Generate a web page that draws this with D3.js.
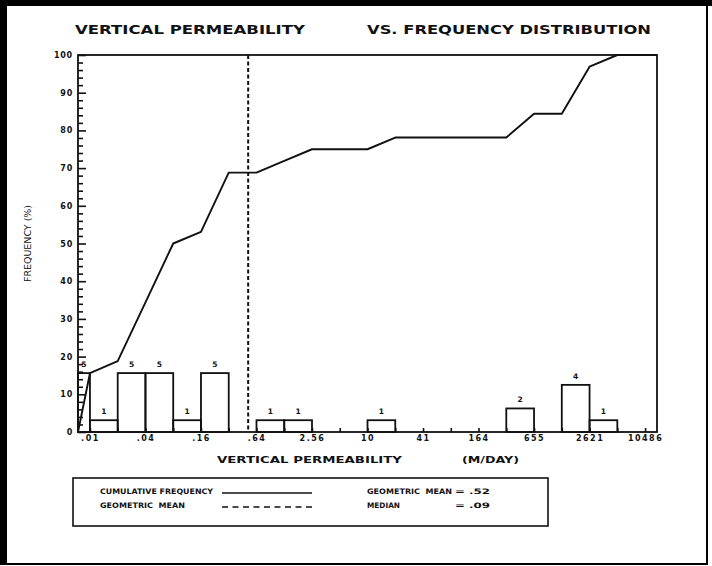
<!DOCTYPE html>
<html>
<head>
<meta charset="utf-8">
<script src="https://cdn.jsdelivr.net/npm/d3@7"></script>
<style>
  body { margin: 0; background: #fff; }
  svg { display: block; }
  text { font-family: "DejaVu Sans", sans-serif; font-weight: bold; fill: #111; white-space: pre; }
</style>
</head>
<body>
<script>
// ---- data -------------------------------------------------------------
// Histogram classes (m/day, doubling widths) and number of samples per class
const binLow  = [0.005, 0.01, 0.02, 0.04, 0.08, 0.16, 0.64, 1.28, 10.24, 327.68, 1310.72, 2621.44];
const binHigh = [0.01, 0.02, 0.04, 0.08, 0.16, 0.32, 1.28, 2.56, 20.48, 655.36, 2621.44, 5242.88];
const counts  = [5, 1, 5, 5, 1, 5, 1, 1, 1, 2, 4, 1];
const totalSamples = 32;

// Cumulative frequency (%) at the class boundaries
const cumX   = [0.00742, 0.01, 0.02, 0.04, 0.08, 0.16, 0.32, 0.64, 1.28, 2.56, 5.12, 10.24, 20.48,
                40.96, 81.92, 163.84, 327.68, 655.36, 1310.72, 2621.44, 5242.88, 14127];
const cumPct = [0, 15.6, 18.8, 34.4, 50, 53.1, 68.8, 68.8, 71.9, 75, 75, 75, 78.1,
                78.1, 78.1, 78.1, 78.1, 84.4, 84.4, 96.9, 100, 100];

// Axis extents and labels
const xExtent = [0.00742, 14127];
const xLabelValues = [0.01, 0.04, 0.16, 0.64, 2.56, 10.24, 40.96, 163.84, 655.36, 2621.44, 10485.76];
const xLabelText   = [".01", ".04", ".16", ".64", "2.56", "10", "41", "164", "655", "2621", "10486"];
const yMajor = [0, 10, 20, 30, 40, 50, 60, 70, 80, 90, 100];

// Summary statistics
const geoMean = 0.52;
const median = 0.09;

// ---- layout -----------------------------------------------------------
const W = 712, H = 566;
const plot = { left: 78, right: 657, top: 55, bottom: 432 };

const svg = d3.select("body").append("svg").attr("width", W).attr("height", H);

// page frame
svg.append("rect").attr("width", W).attr("height", H).attr("fill", "#000");
svg.append("rect").attr("x", 7).attr("y", 6).attr("width", 699).attr("height", 557).attr("fill", "#fff");
svg.append("rect").attr("x", 0).attr("y", 565).attr("width", W).attr("height", 1).attr("fill", "#fff");
svg.append("rect").attr("x", 708).attr("y", 6).attr("width", 4).attr("height", H).attr("fill", "#fff");

const x = d3.scaleLog().base(2).domain(xExtent).range([plot.left, plot.right]);
const y = d3.scaleLinear().domain([0, 100]).range([plot.bottom, plot.top]);

// ---- title ------------------------------------------------------------
svg.append("text").attr("x", 75).attr("y", 34)
  .attr("textLength", 230).attr("lengthAdjust", "spacingAndGlyphs")
  .style("font-size", "12.5px").text("VERTICAL PERMEABILITY");
svg.append("text").attr("x", 367).attr("y", 34)
  .attr("textLength", 284).attr("lengthAdjust", "spacingAndGlyphs")
  .style("font-size", "12.5px").text("VS. FREQUENCY DISTRIBUTION");

// ---- axes -------------------------------------------------------------
const yMinorVals = d3.range(0, 101, 2).filter(v => v % 10 !== 0);
svg.append("g").attr("transform", `translate(${plot.left},0)`)
  .call(d3.axisLeft(y).tickValues(yMinorVals).tickSizeInner(-5).tickSizeOuter(0).tickFormat(""))
  .call(g => g.select(".domain").remove())
  .call(g => g.selectAll("line").attr("stroke", "#111").attr("stroke-width", 1.6));

const yAxis = svg.append("g").attr("transform", `translate(${plot.left},0)`)
  .call(d3.axisLeft(y).tickValues(yMajor).tickSizeInner(-8).tickSizeOuter(0).tickPadding(5))
  .call(g => g.select(".domain").remove())
  .call(g => g.selectAll("line").attr("stroke", "#111").attr("stroke-width", 1.6));
yAxis.selectAll("text").style("font-size", "8px").style("letter-spacing", "0.8px")
  .attr("font-family", null).attr("fill", "#111");

// doubling ticks along the bottom axis, labelled every second one
const xTickVals = d3.range(0, 21).map(i => 0.01 * Math.pow(2, i));
const labelFor = v => {
  const i = xLabelValues.findIndex(l => Math.abs(Math.log2(l / v)) < 1e-6);
  return i >= 0 ? xLabelText[i] : "";
};
const xAxis = svg.append("g").attr("transform", `translate(0,${plot.bottom})`)
  .call(d3.axisBottom(x).tickValues(xTickVals).tickSizeInner(-4).tickSizeOuter(0).tickPadding(3)
    .tickFormat(labelFor))
  .call(g => g.select(".domain").remove())
  .call(g => g.selectAll("line").attr("stroke", "#111").attr("stroke-width", 1.6));
xAxis.selectAll("text").style("font-size", "8px").style("letter-spacing", "1.5px")
  .attr("font-family", null).attr("fill", "#111");

// axis titles
svg.append("text").attr("x", 217).attr("y", 463)
  .attr("textLength", 185).attr("lengthAdjust", "spacingAndGlyphs")
  .style("font-size", "9.5px").text("VERTICAL PERMEABILITY");
svg.append("text").attr("x", 462).attr("y", 463)
  .attr("textLength", 57).attr("lengthAdjust", "spacingAndGlyphs")
  .style("font-size", "9.5px").text("(M/DAY)");
svg.append("text")
  .attr("transform", `translate(31,${(plot.top + plot.bottom) / 2}) rotate(-90)`)
  .attr("text-anchor", "middle")
  .attr("textLength", 77).attr("lengthAdjust", "spacingAndGlyphs")
  .style("font-size", "8px").style("font-weight", "normal").text("FREQUENCY (%)");

// ---- histogram bars ---------------------------------------------------
const bars = counts.map((c, i) => ({
  lo: Math.max(binLow[i], xExtent[0]), hi: binHigh[i], count: c, pct: c / totalSamples * 100
}));
svg.append("g").selectAll("rect").data(bars).join("rect")
  .attr("x", d => x(d.lo))
  .attr("width", d => x(d.hi) - x(d.lo))
  .attr("y", d => y(d.pct))
  .attr("height", d => y(0) - y(d.pct))
  .attr("fill", "none").attr("stroke", "#111").attr("stroke-width", 1.8);

svg.append("g").selectAll("text").data(bars).join("text")
  .attr("x", d => (x(d.lo) + x(d.hi)) / 2)
  .attr("y", d => y(d.pct) - 6)
  .attr("text-anchor", "middle")
  .style("font-size", "7.5px")
  .text(d => d.count);

// ---- geometric mean ---------------------------------------------------
svg.append("line")
  .attr("x1", x(geoMean)).attr("x2", x(geoMean))
  .attr("y1", y(100)).attr("y2", y(0))
  .attr("stroke", "#111").attr("stroke-width", 2).attr("stroke-dasharray", "4,2.5");

// ---- cumulative frequency line ----------------------------------------
const line = d3.line().x(d => x(d[0])).y(d => y(d[1]));
svg.append("path")
  .datum(cumX.map((v, i) => [v, cumPct[i]]))
  .attr("d", line)
  .attr("fill", "none").attr("stroke", "#111").attr("stroke-width", 1.9)
  .attr("stroke-linejoin", "round");

// plot frame
svg.append("rect")
  .attr("x", plot.left).attr("y", plot.top)
  .attr("width", plot.right - plot.left).attr("height", plot.bottom - plot.top)
  .attr("fill", "none").attr("stroke", "#111").attr("stroke-width", 1.8);

// ---- legend -----------------------------------------------------------
const lg = svg.append("g");
lg.append("rect").attr("x", 73).attr("y", 478).attr("width", 475).attr("height", 48)
  .attr("fill", "none").attr("stroke", "#111").attr("stroke-width", 1.6);

const legendText = (tx, ty, s, len) => lg.append("text").attr("x", tx).attr("y", ty)
  .attr("textLength", len).attr("lengthAdjust", "spacingAndGlyphs")
  .style("font-size", "7.5px").text(s);

legendText(100, 494, "CUMULATIVE FREQUENCY", 113);
legendText(100, 508, "GEOMETRIC  MEAN", 85);
legendText(367, 494, "GEOMETRIC  MEAN", 85);
legendText(367, 508, "MEDIAN", 33);
legendText(455, 494, "= " + d3.format(".2f")(geoMean).replace(/^0/, ""), 35);
legendText(455, 508, "= " + d3.format(".2f")(median).replace(/^0/, ""), 35);

lg.append("line").attr("x1", 222).attr("x2", 312).attr("y1", 493).attr("y2", 493)
  .attr("stroke", "#111").attr("stroke-width", 1.6);
lg.append("line").attr("x1", 222).attr("x2", 312).attr("y1", 507).attr("y2", 507)
  .attr("stroke", "#111").attr("stroke-width", 1.6).attr("stroke-dasharray", "6,4.5");
</script>
</body>
</html>
